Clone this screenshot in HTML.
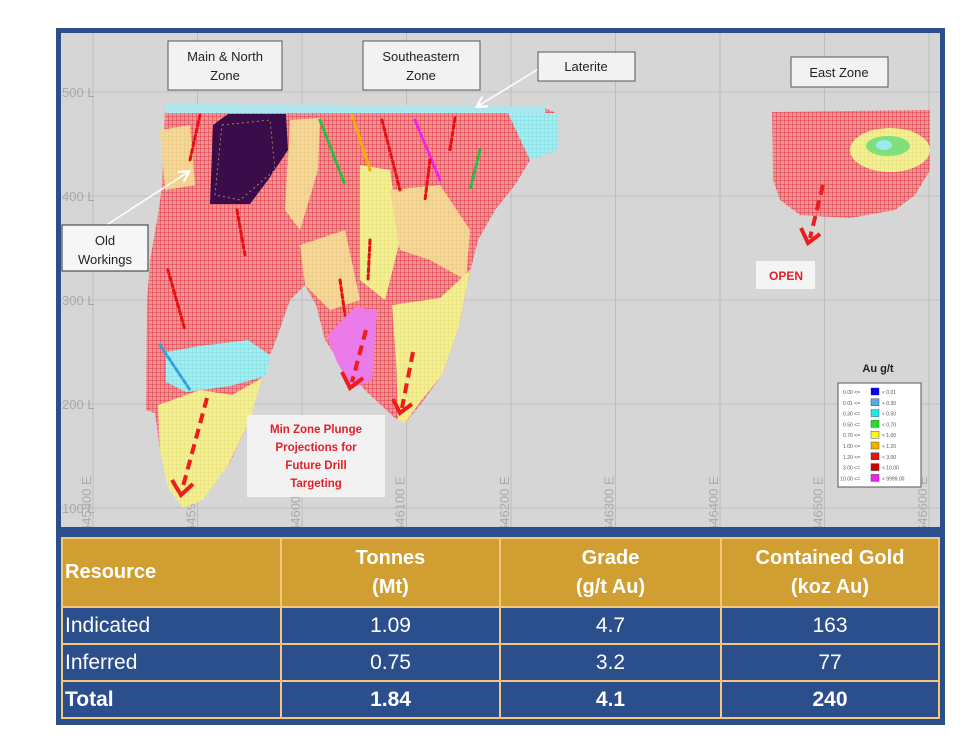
<!DOCTYPE html>
<html><head><meta charset="utf-8">
<style>
html,body{margin:0;padding:0;background:#fff;width:980px;height:746px;overflow:hidden;font-family:"Liberation Sans",sans-serif}
#panel{position:absolute;left:56px;top:28px;width:889px;height:697px;background:#2b4f8d}
#plot{position:absolute;left:0;top:0}
table{position:absolute;left:61px;top:537px;border-collapse:collapse;width:879px;color:#fff;table-layout:fixed}
td,th{border:2px solid #f4c77a;padding:0}
th{background:#d19e31;font-size:20px;font-weight:bold;height:67px;line-height:29px}
td{background:#2b4f8d;font-size:21px;height:35px;text-align:center}
.l{text-align:left;padding-left:2px}
.b{font-weight:bold}
</style></head><body>
<div id="panel"></div>
<svg id="plot" width="980" height="746">
<defs>
<pattern id="redgrid" width="4" height="4" patternUnits="userSpaceOnUse"><rect width="4" height="4" fill="#ee9497"/><path d="M0 0H4M0 0V4" stroke="#e03a46" stroke-width="1"/></pattern>
<pattern id="yelgrid" width="4" height="4" patternUnits="userSpaceOnUse"><rect width="4" height="4" fill="#f2ee9a"/><path d="M0 0H4M0 0V4" stroke="#e6df6a" stroke-width="0.8"/></pattern>
<pattern id="tangrid" width="4" height="4" patternUnits="userSpaceOnUse"><rect width="4" height="4" fill="#f3d89a"/><path d="M0 0H4M0 0V4" stroke="#eac27a" stroke-width="0.8"/></pattern>
<pattern id="cyangrid" width="4" height="4" patternUnits="userSpaceOnUse"><rect width="4" height="4" fill="#a8ecee"/><path d="M0 0H4M0 0V4" stroke="#6fd8e0" stroke-width="0.8"/></pattern>
<marker id="wa" markerWidth="8" markerHeight="8" refX="6" refY="4" orient="auto"><path d="M0 0L7 4L0 8" fill="none" stroke="#fff" stroke-width="1.5"/></marker>
<clipPath id="pc"><rect x="61" y="33" width="879" height="494"/></clipPath>
</defs>
<rect x="61" y="33" width="879" height="494" fill="#d6d6d6"/>
<g id="grid" clip-path="url(#pc)"></g>
<g id="ore">
<path d="M165,106 L545,108 L558,114 L558,150 L530,160 L515,185 L495,210 L478,240 L468,280 L458,330 L442,375 L420,405 L405,423 L395,418 L370,395 L345,370 L325,340 L316,305 L305,285 L290,300 L276,340 L262,375 L250,420 L230,462 L205,497 L185,507 L170,490 L160,450 L155,413 L146,410 L147,300 L150,260 L158,215 L162,185 Z" fill="url(#redgrid)"/>
<path d="M165,104 L545,106 L545,113 L165,113Z" fill="#aee6ee"/>
<path d="M508,113 L558,113 L558,150 L530,160Z" fill="url(#cyangrid)"/>
<path d="M160,130 L190,125 L195,185 L165,190Z" fill="url(#tangrid)"/>
<path d="M290,120 L320,118 L318,170 L300,230 L285,210Z" fill="url(#tangrid)"/>
<path d="M360,165 L390,170 L400,240 L385,300 L360,280Z" fill="url(#yelgrid)"/>
<path d="M390,190 L440,185 L470,230 L466,280 L430,260 L400,250Z" fill="url(#tangrid)"/>
<path d="M300,245 L345,230 L360,300 L330,310 L305,285Z" fill="url(#tangrid)"/>
<path d="M158,405 L200,390 L232,395 L262,378 L250,420 L228,465 L203,500 L183,508 L168,488 L160,450Z" fill="url(#yelgrid)"/>
<path d="M166,352 L200,346 L248,340 L270,355 L266,376 L230,386 L186,392 L166,382Z" fill="url(#cyangrid)"/>
<path d="M392,305 L440,298 L470,270 L458,330 L442,375 L420,402 L405,423 L398,420 L396,360Z" fill="url(#yelgrid)"/>
<path d="M327,336 L355,307 L377,310 L372,380 L352,388 L337,362Z" fill="#ea7be8"/>
<path d="M213,125 L228,114 L286,114 L288,150 L268,180 L250,204 L210,204Z" fill="#3a0c4a"/>
<path d="M222,125 L270,120 L275,170 L240,200 L215,195Z" fill="none" stroke="#b8a84a" stroke-width="0.8" stroke-dasharray="2 3"/>
<path d="M772,112 L930,110 L930,170 L915,195 L895,210 L850,218 L800,215 L780,200 L773,180Z" fill="url(#redgrid)"/>
<ellipse cx="890" cy="150" rx="40" ry="22" fill="url(#yelgrid)"/>
<ellipse cx="888" cy="146" rx="22" ry="10" fill="#7ee07a"/>
<ellipse cx="884" cy="145" rx="8" ry="5" fill="#9de8f0"/>
</g>
<g id="holes"></g>
<g fill="none" stroke="#ee1c1c" stroke-width="4">
<path d="M207,398 L182,490" stroke-dasharray="10 6"/><path d="M172,480 L181,495 L193,484" stroke-width="4"/>
<path d="M366,330 L352,382" stroke-dasharray="10 6"/><path d="M342,372 L350,388 L363,378"/>
<path d="M413,352 L402,408" stroke-dasharray="10 6"/><path d="M393,399 L400,413 L412,404"/>
<path d="M823,185 L810,238" stroke-dasharray="10 6"/><path d="M801,228 L808,243 L820,234"/>
</g>
<path d="M540,68 L478,106" stroke="#fff" stroke-width="1.5" marker-end="url(#wa)"/>
<path d="M105,226 L188,172" stroke="#fff" stroke-width="1.5" marker-end="url(#wa)"/>
<g font-family="Liberation Sans,sans-serif" font-size="13" fill="#222" text-anchor="middle">
<rect x="168" y="41" width="114" height="49" fill="#f2f2f2" stroke="#555"/><text x="225" y="61">Main &amp; North</text><text x="225" y="80">Zone</text>
<rect x="363" y="41" width="117" height="49" fill="#f2f2f2" stroke="#555"/><text x="421" y="61">Southeastern</text><text x="421" y="80">Zone</text>
<rect x="538" y="52" width="97" height="29" fill="#f2f2f2" stroke="#555"/><text x="586" y="71">Laterite</text>
<rect x="791" y="57" width="97" height="30" fill="#f2f2f2" stroke="#555"/><text x="839" y="77">East Zone</text>
<rect x="62" y="225" width="86" height="46" fill="#f6f6f6" stroke="#333"/><text x="105" y="245">Old</text><text x="105" y="264">Workings</text>
<rect x="756" y="261" width="59" height="28" fill="#f4f4f4"/><text x="786" y="280" fill="#e0202a" font-weight="bold" font-size="12">OPEN</text>
<rect x="247" y="415" width="138" height="82" fill="#f2f2f2"/>
<g fill="#e0202a" font-weight="bold" font-size="11.5"><text x="316" y="433">Min Zone Plunge</text><text x="316" y="451">Projections for</text><text x="316" y="469">Future Drill</text><text x="316" y="487">Targeting</text></g>
<text x="878" y="372" font-weight="bold" font-size="11">Au g/t</text>
</g>
<g id="legend"></g>
</svg>
<table>
<colgroup><col style="width:219px"><col style="width:219px"><col style="width:221px"><col></colgroup>
<tr><th class="l">Resource</th><th>Tonnes<br>(Mt)</th><th>Grade<br>(g/t Au)</th><th>Contained Gold<br>(koz Au)</th></tr>
<tr><td class="l">Indicated</td><td>1.09</td><td>4.7</td><td>163</td></tr>
<tr><td class="l">Inferred</td><td>0.75</td><td>3.2</td><td>77</td></tr>
<tr><td class="l b">Total</td><td class="b">1.84</td><td class="b">4.1</td><td class="b">240</td></tr>
</table>
<script>
const eastings=[645800,645900,646000,646100,646200,646300,646400,646500,646600];
const elevations=[500,400,300,200,100];
const legendLow=["0.00","0.01","0.30","0.50","0.70","1.00","1.20","3.00","10.00"];
const legendHigh=["0.01","0.30","0.50","0.70","1.00","1.20","3.00","10.00","9999.00"];
const legendColors=["#0000ee","#5aa8e8","#20e8f0","#20e020","#f8f820","#f0b000","#e81010","#d00000","#f020f0"];
const NS="http://www.w3.org/2000/svg";
function xS(e){return 93+(e-645800)*1.045;}
function yS(z){return 92+(500-z)*1.04;}
const g=document.getElementById('grid');
function mk(t,a){const el=document.createElementNS(NS,t);for(const k in a)el.setAttribute(k,a[k]);return el;}
eastings.forEach(e=>{
 const l=mk('line',{x1:xS(e),x2:xS(e),y1:33,y2:527,stroke:'#bdbdbd','stroke-width':1});
 
 
 g.appendChild(l);
 const t=mk('text',{x:0,y:0,transform:`translate(${xS(e)-2},532) rotate(-90)`,'font-size':13,fill:'#a9a9a9','font-family':'Liberation Sans,sans-serif'});
 t.textContent=e+' E';
 
 
 g.appendChild(t);
});
elevations.forEach(z=>{
 const l=mk('line',{x1:61,x2:940,y1:yS(z),y2:yS(z),stroke:'#bdbdbd','stroke-width':1});
 
 
 g.appendChild(l);
 const t=mk('text',{x:62,y:yS(z)+5,'font-size':13,fill:'#a9a9a9','font-family':'Liberation Sans,sans-serif'});
 t.textContent=z+' L';
 
 
 g.appendChild(t);
});
const h=document.getElementById('holes');
const holes=[[200,115,190,160],[320,120,345,185],[352,115,370,170],[382,120,400,190],[415,120,440,180],[455,118,450,150],[237,210,245,255],[168,270,185,330],[160,345,190,390],[340,280,345,315],[370,240,368,280],[430,160,425,200],[480,150,470,190]];
const hc=["#e81010","#20c040","#f0b000","#e81010","#f020f0","#e81010","#e81010","#e81010","#30a0e0","#e81010","#e81010","#e81010","#20c040"];
holes.forEach((p,i)=>{
 const l=mk('line',{x1:p[0],y1:p[1],x2:p[2],y2:p[3],stroke:hc[i],'stroke-width':3,'stroke-dasharray':'4 3','stroke-linecap':'round'});
 
 
 h.appendChild(l);
});
const lg=document.getElementById('legend');
const box=mk('rect',{x:838,y:383,width:83,height:104,fill:'#fff',stroke:'#555'});
lg.appendChild(box);
legendLow.forEach((v,i)=>{
 const y=388+i*10.8;
 const a=mk('text',{x:860,y:y+6,'font-size':5,fill:'#555','text-anchor':'end','font-family':'Liberation Sans,sans-serif'});
 a.textContent=v+' <=';
 
 
 lg.appendChild(a);
 const r=mk('rect',{x:871,y:y,width:8,height:7,fill:legendColors[i],stroke:'#333','stroke-width':0.4});
 
 
 lg.appendChild(r);
 const b=mk('text',{x:882,y:y+6,'font-size':5,fill:'#555','font-family':'Liberation Sans,sans-serif'});
 b.textContent='< '+legendHigh[i];
 
 
 lg.appendChild(b);
});
</script>
</body></html>
